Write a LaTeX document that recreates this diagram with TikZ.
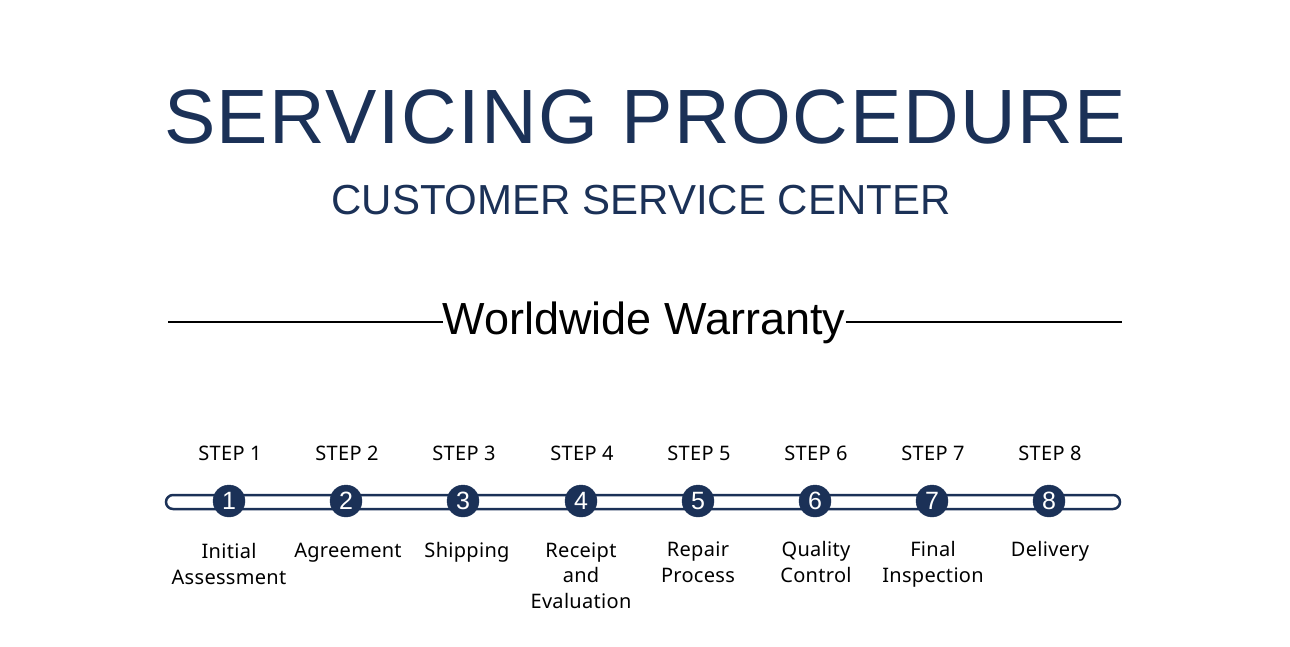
\documentclass[tikz,border=0pt]{standalone}
\usepackage{fontspec}
\setmainfont{Liberation Sans}
\newfontfamily\labelfont[LetterSpace=1.5]{Noto Sans}
\definecolor{navy}{HTML}{1B3157}
\begin{document}
\begin{tikzpicture}[x=1pt,y=-1pt,
  titletxt/.style={anchor=base,inner sep=0pt,text=navy},
  steptxt/.style={anchor=base,inner sep=0pt,font=\labelfont\fontsize{20}{20}\selectfont},
  desctxt/.style={anchor=base,inner sep=0pt,align=center,font=\labelfont\fontsize{20}{25.5}\selectfont},
  dot/.style={circle,fill=navy,draw=navy,minimum size=32pt,inner sep=0pt,text=white,font=\fontsize{25}{25}\selectfont},
  track/.style={draw=navy,line width=2.5pt,fill=white,rounded corners=7pt}]
\useasboundingbox (0,0) rectangle (1290,646);
\node[titletxt,font=\fontsize{77}{77}\selectfont] (title) at (645,143) {\addfontfeature{LetterSpace=2}SERVICING PROCEDURE};
\node[titletxt,font=\fontsize{42}{42}\selectfont] (sub) at (641,214) {CUSTOMER SERVICE CENTER};
\node[anchor=base,inner sep=0pt,font=\fontsize{45}{45}\selectfont] (ww) at (644,334) {Worldwide Warranty};
\coordinate (l1) at (168,322);
\coordinate (r1) at (1122,322);
\draw[line width=2pt] (l1) -- (ww.west |- l1);
\draw[line width=2pt] (ww.east |- r1) -- (r1);
\draw[track] (166,495) rectangle (1120,509);
\foreach \i/\x in {1/229,2/346,3/463,4/581,5/698,6/815,7/932,8/1049}{
  \node[dot] (c\i) at (\x,501) {\i};
  \node[steptxt] (s\i) at (\x+1,460) {STEP \i};
}
\node[desctxt] (d1) at (229,584) {Initial\\Assessment};
\node[desctxt] (d2) at (348,557) {Agreement};
\node[desctxt] (d3) at (467,557) {Shipping};
\node[desctxt] (d4) at (581,608) {Receipt\\and\\Evaluation};
\node[desctxt] (d5) at (698,582) {Repair\\Process};
\node[desctxt] (d6) at (816,582) {Quality\\Control};
\node[desctxt] (d7) at (933,582) {Final\\Inspection};
\node[desctxt] (d8) at (1050,556) {Delivery};
\end{tikzpicture}
\end{document}
